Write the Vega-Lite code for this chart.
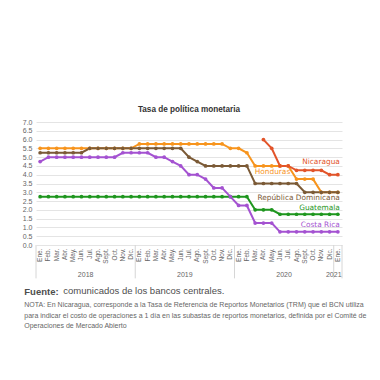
{
  "$schema": "https://vega.github.io/schema/vega-lite/v6.json",
  "padding": {"top": 104, "left": 22, "right": 5, "bottom": 5},
  "title": {
    "text": [
      "NOTA: En Nicaragua, corresponde a la Tasa de Referencia de Reportos Monetarios (TRM) que el BCN utiliza",
      "para indicar el costo de operaciones a 1 día en las subastas de reportos monetarios, definida por el Comité de",
      "Operaciones de Mercado Abierto"
    ],
    "orient": "bottom",
    "anchor": "start",
    "font": "Liberation Sans",
    "fontSize": 7,
    "fontWeight": "normal",
    "color": "#666666",
    "lineHeight": 10.5,
    "offset": 5,
    "dx": 2
  },
  "datasets": {
    "series": [
      {"m":"2018-01","p":"HN","v":5.5},{"m":"2018-02","p":"HN","v":5.5},{"m":"2018-03","p":"HN","v":5.5},{"m":"2018-04","p":"HN","v":5.5},{"m":"2018-05","p":"HN","v":5.5},{"m":"2018-06","p":"HN","v":5.5},{"m":"2018-07","p":"HN","v":5.5},{"m":"2018-08","p":"HN","v":5.5},{"m":"2018-09","p":"HN","v":5.5},{"m":"2018-10","p":"HN","v":5.5},{"m":"2018-11","p":"HN","v":5.5},{"m":"2018-12","p":"HN","v":5.5},
      {"m":"2019-01","p":"HN","v":5.75},{"m":"2019-02","p":"HN","v":5.75},{"m":"2019-03","p":"HN","v":5.75},{"m":"2019-04","p":"HN","v":5.75},{"m":"2019-05","p":"HN","v":5.75},{"m":"2019-06","p":"HN","v":5.75},{"m":"2019-07","p":"HN","v":5.75},{"m":"2019-08","p":"HN","v":5.75},{"m":"2019-09","p":"HN","v":5.75},{"m":"2019-10","p":"HN","v":5.75},{"m":"2019-11","p":"HN","v":5.75},{"m":"2019-12","p":"HN","v":5.5},
      {"m":"2020-01","p":"HN","v":5.5},{"m":"2020-02","p":"HN","v":5.25},{"m":"2020-03","p":"HN","v":4.5},{"m":"2020-04","p":"HN","v":4.5},{"m":"2020-05","p":"HN","v":4.5},{"m":"2020-06","p":"HN","v":4.5},{"m":"2020-07","p":"HN","v":4.5},{"m":"2020-08","p":"HN","v":3.75},{"m":"2020-09","p":"HN","v":3.75},{"m":"2020-10","p":"HN","v":3.75},{"m":"2020-11","p":"HN","v":3.0},{"m":"2020-12","p":"HN","v":3.0},{"m":"2021-01","p":"HN","v":3.0},

      {"m":"2018-01","p":"DO","v":5.25},{"m":"2018-02","p":"DO","v":5.25},{"m":"2018-03","p":"DO","v":5.25},{"m":"2018-04","p":"DO","v":5.25},{"m":"2018-05","p":"DO","v":5.25},{"m":"2018-06","p":"DO","v":5.25},{"m":"2018-07","p":"DO","v":5.5},{"m":"2018-08","p":"DO","v":5.5},{"m":"2018-09","p":"DO","v":5.5},{"m":"2018-10","p":"DO","v":5.5},{"m":"2018-11","p":"DO","v":5.5},{"m":"2018-12","p":"DO","v":5.5},
      {"m":"2019-01","p":"DO","v":5.5},{"m":"2019-02","p":"DO","v":5.5},{"m":"2019-03","p":"DO","v":5.5},{"m":"2019-04","p":"DO","v":5.5},{"m":"2019-05","p":"DO","v":5.5},{"m":"2019-06","p":"DO","v":5.5},{"m":"2019-07","p":"DO","v":5.0},{"m":"2019-08","p":"DO","v":4.75},{"m":"2019-09","p":"DO","v":4.5},{"m":"2019-10","p":"DO","v":4.5},{"m":"2019-11","p":"DO","v":4.5},{"m":"2019-12","p":"DO","v":4.5},
      {"m":"2020-01","p":"DO","v":4.5},{"m":"2020-02","p":"DO","v":4.5},{"m":"2020-03","p":"DO","v":3.5},{"m":"2020-04","p":"DO","v":3.5},{"m":"2020-05","p":"DO","v":3.5},{"m":"2020-06","p":"DO","v":3.5},{"m":"2020-07","p":"DO","v":3.5},{"m":"2020-08","p":"DO","v":3.5},{"m":"2020-09","p":"DO","v":3.0},{"m":"2020-10","p":"DO","v":3.0},{"m":"2020-11","p":"DO","v":3.0},{"m":"2020-12","p":"DO","v":3.0},{"m":"2021-01","p":"DO","v":3.0},

      {"m":"2018-01","p":"GT","v":2.75},{"m":"2018-02","p":"GT","v":2.75},{"m":"2018-03","p":"GT","v":2.75},{"m":"2018-04","p":"GT","v":2.75},{"m":"2018-05","p":"GT","v":2.75},{"m":"2018-06","p":"GT","v":2.75},{"m":"2018-07","p":"GT","v":2.75},{"m":"2018-08","p":"GT","v":2.75},{"m":"2018-09","p":"GT","v":2.75},{"m":"2018-10","p":"GT","v":2.75},{"m":"2018-11","p":"GT","v":2.75},{"m":"2018-12","p":"GT","v":2.75},
      {"m":"2019-01","p":"GT","v":2.75},{"m":"2019-02","p":"GT","v":2.75},{"m":"2019-03","p":"GT","v":2.75},{"m":"2019-04","p":"GT","v":2.75},{"m":"2019-05","p":"GT","v":2.75},{"m":"2019-06","p":"GT","v":2.75},{"m":"2019-07","p":"GT","v":2.75},{"m":"2019-08","p":"GT","v":2.75},{"m":"2019-09","p":"GT","v":2.75},{"m":"2019-10","p":"GT","v":2.75},{"m":"2019-11","p":"GT","v":2.75},{"m":"2019-12","p":"GT","v":2.75},
      {"m":"2020-01","p":"GT","v":2.75},{"m":"2020-02","p":"GT","v":2.75},{"m":"2020-03","p":"GT","v":2.0},{"m":"2020-04","p":"GT","v":2.0},{"m":"2020-05","p":"GT","v":2.0},{"m":"2020-06","p":"GT","v":1.75},{"m":"2020-07","p":"GT","v":1.75},{"m":"2020-08","p":"GT","v":1.75},{"m":"2020-09","p":"GT","v":1.75},{"m":"2020-10","p":"GT","v":1.75},{"m":"2020-11","p":"GT","v":1.75},{"m":"2020-12","p":"GT","v":1.75},{"m":"2021-01","p":"GT","v":1.75},

      {"m":"2018-01","p":"CR","v":4.75},{"m":"2018-02","p":"CR","v":5.0},{"m":"2018-03","p":"CR","v":5.0},{"m":"2018-04","p":"CR","v":5.0},{"m":"2018-05","p":"CR","v":5.0},{"m":"2018-06","p":"CR","v":5.0},{"m":"2018-07","p":"CR","v":5.0},{"m":"2018-08","p":"CR","v":5.0},{"m":"2018-09","p":"CR","v":5.0},{"m":"2018-10","p":"CR","v":5.0},{"m":"2018-11","p":"CR","v":5.25},{"m":"2018-12","p":"CR","v":5.25},
      {"m":"2019-01","p":"CR","v":5.25},{"m":"2019-02","p":"CR","v":5.25},{"m":"2019-03","p":"CR","v":5.0},{"m":"2019-04","p":"CR","v":5.0},{"m":"2019-05","p":"CR","v":4.75},{"m":"2019-06","p":"CR","v":4.5},{"m":"2019-07","p":"CR","v":4.0},{"m":"2019-08","p":"CR","v":4.0},{"m":"2019-09","p":"CR","v":3.75},{"m":"2019-10","p":"CR","v":3.25},{"m":"2019-11","p":"CR","v":3.25},{"m":"2019-12","p":"CR","v":2.75},
      {"m":"2020-01","p":"CR","v":2.25},{"m":"2020-02","p":"CR","v":2.25},{"m":"2020-03","p":"CR","v":1.25},{"m":"2020-04","p":"CR","v":1.25},{"m":"2020-05","p":"CR","v":1.25},{"m":"2020-06","p":"CR","v":0.75},{"m":"2020-07","p":"CR","v":0.75},{"m":"2020-08","p":"CR","v":0.75},{"m":"2020-09","p":"CR","v":0.75},{"m":"2020-10","p":"CR","v":0.75},{"m":"2020-11","p":"CR","v":0.75},{"m":"2020-12","p":"CR","v":0.75},{"m":"2021-01","p":"CR","v":0.75},

      {"m":"2020-04","p":"NI","v":6.0},{"m":"2020-05","p":"NI","v":5.5},{"m":"2020-06","p":"NI","v":4.5},{"m":"2020-07","p":"NI","v":4.5},{"m":"2020-08","p":"NI","v":4.25},{"m":"2020-09","p":"NI","v":4.25},{"m":"2020-10","p":"NI","v":4.25},{"m":"2020-11","p":"NI","v":4.25},{"m":"2020-12","p":"NI","v":4.0},{"m":"2021-01","p":"NI","v":4.0}
    ],
    "labels": [
      {"p":"NI","t":"Nicaragua","m":"2021-01","v":4.75},
      {"p":"HN","t":"Honduras","m":"2020-07","v":4.15},
      {"p":"DO","t":"República Dominicana","m":"2021-01","v":2.65},
      {"p":"GT","t":"Guatemala","m":"2021-01","v":2.12},
      {"p":"CR","t":"Costa Rica","m":"2021-01","v":1.15}
    ],
    "seps": [{"m":"2018-01"},{"m":"2019-01"},{"m":"2020-01"},{"m":"2021-01"}],
    "years": [{"m":"2018-07","t":"2018"},{"m":"2019-07","t":"2019"},{"m":"2020-07","t":"2020"},{"m":"2021-01","t":"2021"}]
  },
  "vconcat": [
    {
      "title": {"text": "comunicados de los bancos centrales.", "orient": "bottom", "anchor": "start", "font": "Liberation Sans", "fontSize": 9.5, "fontWeight": "normal", "color": "#4d4d4d", "offset": -10, "dx": 41},
      "vconcat": [
        {
          "title": {"text": "Fuente:", "orient": "bottom", "anchor": "start", "font": "Liberation Sans", "fontSize": 9.5, "fontWeight": "bold", "color": "#4d4d4d", "offset": 8, "dx": 2},
          "vconcat": [
            {
              "width": 306,
              "height": 123,
              "title": {"text": "Tasa de política monetaria", "fontSize": 8.2, "fontWeight": "bold", "color": "#333333", "offset": 4, "anchor": "middle", "font": "Liberation Sans"},
              "layer": [
                {
                  "data": {"name": "series"},
                  "mark": {"type": "line", "strokeWidth": 2, "point": {"filled": true, "size": 14}},
                  "encoding": {
                    "x": {
                      "field": "m", "type": "ordinal",
                      "scale": {"type": "band", "paddingInner": 0, "paddingOuter": 0},
                      "title": null,
                      "axis": {
                        "labelAngle": -90, "labelFontSize": 6.5, "labelColor": "#666666", "ticks": false, "domain": false, "grid": false, "labelPadding": 3,
                        "labelExpr": "['Ene.','Feb.','Mar.','Abr.','May.','Jun.','Jul.','Ago.','Sept.','Oct.','Nov.','Dic.'][toNumber(substring(datum.value,5,7))-1]"
                      }
                    },
                    "y": {
                      "field": "v", "type": "quantitative",
                      "scale": {"domain": [0, 7]},
                      "title": null,
                      "axis": {"values": [0,0.5,1,1.5,2,2.5,3,3.5,4,4.5,5,5.5,6,6.5,7], "format": ".1f", "labelFontSize": 7, "labelColor": "#666666", "ticks": false, "domain": false, "gridColor": "#e4e4e4", "labelPadding": 4, "labelOverlap": false}
                    },
                    "color": {
                      "field": "p", "type": "nominal", "legend": null,
                      "scale": {"domain": ["HN","DO","GT","CR","NI"], "range": ["#F7941D","#7B5A36","#1E961E","#A452D1","#E2542A"]}
                    },
                    "detail": {"field": "p"}
                  }
                },
                {
                  "data": {"name": "seps"},
                  "mark": {"type": "rule", "color": "#d6d6d6", "strokeWidth": 1},
                  "encoding": {
                    "x": {"field": "m", "type": "ordinal", "bandPosition": 0, "scale": {"type": "band", "paddingInner": 0, "paddingOuter": 0}, "title": null},
                    "y": {"datum": 0, "type": "quantitative", "scale": {"domain": [0, 7]}, "title": null,
                      "axis": {"values": [0,0.5,1,1.5,2,2.5,3,3.5,4,4.5,5,5.5,6,6.5,7], "format": ".1f", "labelFontSize": 7, "labelColor": "#666666", "ticks": false, "domain": false, "gridColor": "#e4e4e4", "labelPadding": 4, "labelOverlap": false}},
                    "y2": {"datum": -1.9}
                  }
                },
                {
                  "data": {"name": "seps"},
                  "transform": [{"filter": "datum.m == '2021-01'"}],
                  "mark": {"type": "rule", "color": "#d6d6d6", "strokeWidth": 1},
                  "encoding": {
                    "x": {"field": "m", "type": "ordinal", "bandPosition": 1, "scale": {"type": "band", "paddingInner": 0, "paddingOuter": 0}, "title": null},
                    "y": {"datum": 0, "type": "quantitative", "scale": {"domain": [0, 7]}, "title": null,
                      "axis": {"values": [0,0.5,1,1.5,2,2.5,3,3.5,4,4.5,5,5.5,6,6.5,7], "format": ".1f", "labelFontSize": 7, "labelColor": "#666666", "ticks": false, "domain": false, "gridColor": "#e4e4e4", "labelPadding": 4, "labelOverlap": false}},
                    "y2": {"datum": -1.9}
                  }
                },
                {
                  "data": {"name": "labels"},
                  "mark": {"type": "text", "align": "right", "baseline": "middle", "fontSize": 7.4, "font": "DejaVu Sans", "dx": 2},
                  "encoding": {
                    "x": {"field": "m", "type": "ordinal", "scale": {"type": "band", "paddingInner": 0, "paddingOuter": 0}, "title": null},
                    "y": {"field": "v", "type": "quantitative", "scale": {"domain": [0, 7]}, "title": null,
                      "axis": {"values": [0,0.5,1,1.5,2,2.5,3,3.5,4,4.5,5,5.5,6,6.5,7], "format": ".1f", "labelFontSize": 7, "labelColor": "#666666", "ticks": false, "domain": false, "gridColor": "#e4e4e4", "labelPadding": 4, "labelOverlap": false}},
                    "text": {"field": "t"},
                    "color": {"field": "p", "type": "nominal", "legend": null}
                  }
                },
                {
                  "data": {"name": "years"},
                  "mark": {"type": "text", "align": "center", "baseline": "middle", "fontSize": 7, "color": "#666666"},
                  "encoding": {
                    "x": {"field": "m", "type": "ordinal", "bandPosition": 0, "scale": {"type": "band", "paddingInner": 0, "paddingOuter": 0}, "title": null},
                    "y": {"datum": -1.72, "type": "quantitative", "scale": {"domain": [0, 7]}, "title": null,
                      "axis": {"values": [0,0.5,1,1.5,2,2.5,3,3.5,4,4.5,5,5.5,6,6.5,7], "format": ".1f", "labelFontSize": 7, "labelColor": "#666666", "ticks": false, "domain": false, "gridColor": "#e4e4e4", "labelPadding": 4, "labelOverlap": false}},
                    "text": {"field": "t"}
                  }
                }
              ]
            }
          ]
        }
      ]
    }
  ],
  "config": {"view": {"stroke": null}}
}
